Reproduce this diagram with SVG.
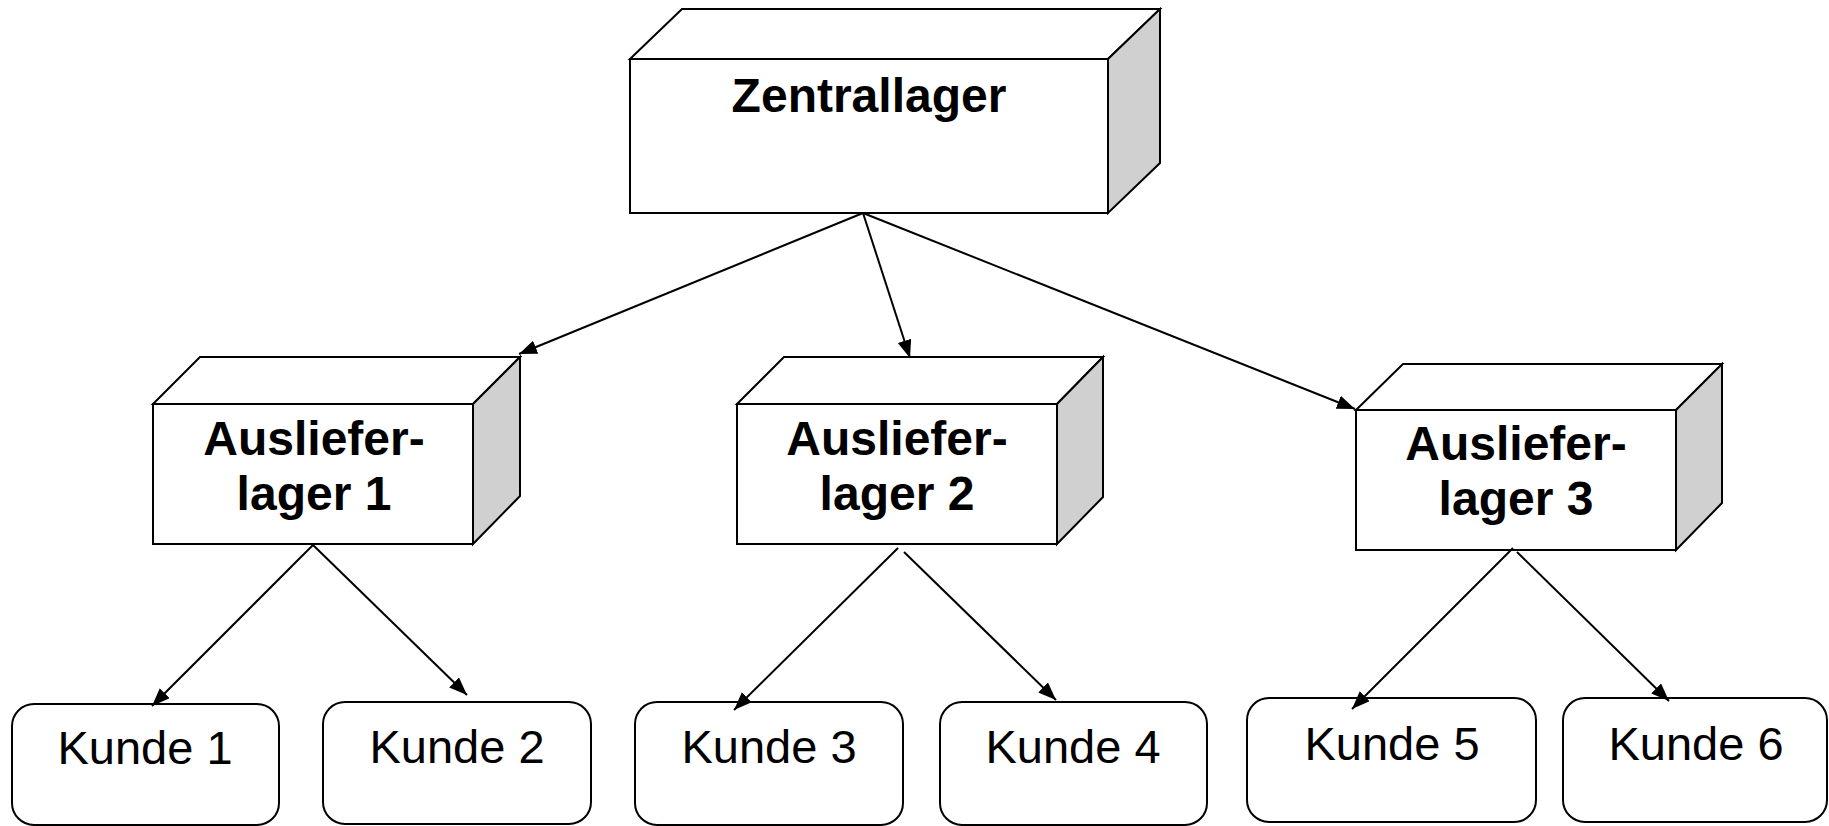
<svg xmlns="http://www.w3.org/2000/svg" width="1829" height="826" viewBox="0 0 1829 826">
  <defs>
    <style>
      .face { fill: #ffffff; stroke: #000000; stroke-width: 2; stroke-linejoin: miter; }
      .side { fill: #d0d0d0; stroke: #000000; stroke-width: 2; stroke-linejoin: miter; }
      .kunde { fill: #ffffff; stroke: #000000; stroke-width: 2; }
      .bold { font-family: "Liberation Sans", Arial, sans-serif; font-weight: bold; font-size: 48px; fill: #000000; text-anchor: middle; }
      .plain { font-family: "Liberation Sans", Arial, sans-serif; font-size: 47px; fill: #000000; text-anchor: middle; }
      .edge { stroke: #000000; stroke-width: 2; fill: none; marker-end: url(#arrow); }
    </style>
    <marker id="arrow" markerUnits="userSpaceOnUse" markerWidth="20" markerHeight="16" refX="18" refY="7" orient="auto">
      <path d="M0,0 L18,7 L0,14 Z" fill="#000000"/>
    </marker>
  </defs>

  <rect width="1829" height="826" fill="#ffffff"/>

  <!-- central warehouse: 3D box -->
  <g id="zentrallager">
    <path class="face" d="M630,59 L682,9 L1160,9 L1108,59 Z"/>
    <path class="side" d="M1108,59 L1160,9 L1160,163 L1108,213 Z"/>
    <rect class="face" x="630" y="59" width="478" height="154"/>
    <text class="bold" x="869" y="112">Zentrallager</text>
  </g>

  <!-- distribution warehouses -->
  <g id="auslieferlager1">
    <path class="face" d="M153,404 L200,357 L520,357 L473,404 Z"/>
    <path class="side" d="M473,404 L520,357 L520,496 L473,544 Z"/>
    <rect class="face" x="153" y="404" width="320" height="140"/>
    <text class="bold" x="314" y="455">Ausliefer-</text>
    <text class="bold" x="314" y="510">lager 1</text>
  </g>

  <g id="auslieferlager2">
    <path class="face" d="M737,404 L784,357 L1103,357 L1057,404 Z"/>
    <path class="side" d="M1057,404 L1103,357 L1103,497 L1057,544 Z"/>
    <rect class="face" x="737" y="404" width="320" height="140"/>
    <text class="bold" x="897" y="455">Ausliefer-</text>
    <text class="bold" x="897" y="510">lager 2</text>
  </g>

  <g id="auslieferlager3">
    <path class="face" d="M1356,410 L1403,364 L1722,364 L1676,410 Z"/>
    <path class="side" d="M1676,410 L1722,364 L1722,503 L1676,550 Z"/>
    <rect class="face" x="1356" y="410" width="320" height="140"/>
    <text class="bold" x="1516" y="460">Ausliefer-</text>
    <text class="bold" x="1516" y="515">lager 3</text>
  </g>

  <!-- customers -->
  <g id="kunde1">
    <rect class="kunde" x="12" y="704" width="267" height="121" rx="22" ry="22"/>
    <text class="plain" x="145" y="764">Kunde 1</text>
  </g>
  <g id="kunde2">
    <rect class="kunde" x="323" y="702" width="268" height="122" rx="22" ry="22"/>
    <text class="plain" x="457" y="763">Kunde 2</text>
  </g>
  <g id="kunde3">
    <rect class="kunde" x="635" y="702" width="268" height="123" rx="22" ry="22"/>
    <text class="plain" x="769" y="763">Kunde 3</text>
  </g>
  <g id="kunde4">
    <rect class="kunde" x="940" y="702" width="267" height="123" rx="22" ry="22"/>
    <text class="plain" x="1073" y="763">Kunde 4</text>
  </g>
  <g id="kunde5">
    <rect class="kunde" x="1247" y="698" width="289" height="124" rx="22" ry="22"/>
    <text class="plain" x="1392" y="760">Kunde 5</text>
  </g>
  <g id="kunde6">
    <rect class="kunde" x="1563" y="698" width="264" height="124" rx="22" ry="22"/>
    <text class="plain" x="1696" y="760">Kunde 6</text>
  </g>

  <!-- connectors -->
  <g id="connectors">
    <line class="edge" x1="863" y1="213" x2="519" y2="354"/>
    <line class="edge" x1="863" y1="213" x2="910" y2="358"/>
    <line class="edge" x1="863" y1="213" x2="1355" y2="409"/>

    <line class="edge" x1="313" y1="545" x2="152" y2="706"/>
    <line class="edge" x1="313" y1="545" x2="467" y2="695"/>

    <line class="edge" x1="898" y1="548" x2="734" y2="710"/>
    <line class="edge" x1="904" y1="552" x2="1056" y2="700"/>

    <line class="edge" x1="1513" y1="548" x2="1352" y2="709"/>
    <line class="edge" x1="1517" y1="552" x2="1669" y2="701"/>
  </g>
</svg>
